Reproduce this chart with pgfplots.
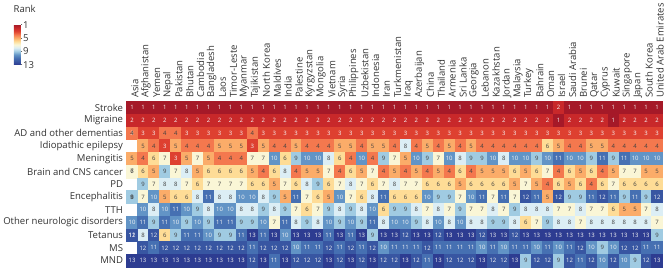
\documentclass[border=0pt]{standalone}
\usepackage{fontspec}
\setmainfont{Open Sans}
\usepackage{pgfplots}
\usepackage{pgfplotstable}
\pgfplotsset{compat=1.18}
\newcommand{\lab}{\fontsize{9.6}{11}\selectfont}
\newcommand{\cel}{\fontsize{6}{7}\selectfont}
% ranks: 13 rows (diseases) x 49 columns (countries), row by row
\pgfplotstableread[row sep=\\, header=false]{%
1\\1\\1\\1\\1\\1\\1\\1\\1\\1\\1\\1\\1\\1\\1\\1\\1\\1\\1\\1\\1\\1\\1\\1\\1\\1\\1\\1\\1\\1\\1\\1\\1\\1\\1\\1\\1\\1\\1\\2\\1\\1\\1\\1\\1\\1\\1\\1\\1\\%
2\\2\\2\\2\\2\\2\\2\\2\\2\\2\\2\\2\\2\\2\\2\\2\\2\\2\\2\\2\\2\\2\\2\\2\\2\\2\\2\\2\\2\\2\\2\\2\\2\\2\\2\\2\\2\\2\\2\\1\\2\\2\\2\\2\\1\\2\\2\\2\\2\\%
3\\3\\3\\4\\4\\3\\3\\3\\3\\3\\3\\4\\3\\3\\3\\3\\3\\3\\3\\3\\3\\3\\3\\3\\3\\3\\3\\3\\3\\3\\3\\3\\3\\3\\3\\3\\3\\3\\3\\3\\3\\3\\3\\3\\3\\3\\3\\3\\3\\%
4\\5\\4\\3\\5\\4\\4\\4\\5\\5\\5\\3\\5\\4\\4\\5\\4\\4\\4\\5\\5\\4\\5\\5\\4\\8\\4\\5\\4\\5\\4\\5\\4\\4\\4\\4\\4\\4\\6\\5\\4\\4\\5\\5\\4\\4\\4\\4\\4\\%
5\\4\\6\\7\\3\\5\\7\\5\\4\\4\\4\\7\\7\\10\\6\\9\\10\\10\\8\\6\\4\\10\\4\\9\\7\\5\\10\\9\\7\\10\\8\\9\\9\\10\\8\\10\\10\\9\\10\\11\\10\\10\\9\\11\\9\\11\\10\\10\\10\\%
6\\6\\5\\9\\7\\8\\5\\6\\6\\6\\6\\5\\4\\6\\8\\4\\5\\5\\7\\4\\6\\5\\7\\4\\5\\4\\5\\4\\5\\4\\6\\4\\5\\5\\5\\6\\5\\6\\7\\4\\6\\5\\6\\4\\5\\7\\7\\5\\5\\%
7\\9\\7\\8\\8\\7\\6\\7\\7\\7\\7\\6\\6\\5\\7\\6\\8\\9\\6\\7\\8\\7\\6\\7\\8\\7\\7\\6\\6\\6\\5\\6\\6\\6\\6\\5\\7\\5\\4\\6\\5\\6\\4\\6\\7\\6\\6\\6\\6\\%
8\\7\\10\\5\\6\\6\\8\\11\\8\\8\\10\\10\\8\\9\\5\\11\\7\\6\\5\\10\\7\\6\\8\\11\\6\\6\\6\\10\\9\\9\\7\\10\\11\\7\\11\\7\\12\\11\\5\\12\\9\\9\\11\\12\\11\\9\\11\\9\\12\\%
9\\10\\8\\10\\11\\10\\9\\8\\10\\10\\8\\8\\9\\8\\9\\7\\6\\7\\9\\8\\9\\8\\10\\6\\9\\9\\8\\7\\8\\7\\9\\7\\7\\8\\7\\9\\8\\8\\8\\7\\7\\8\\7\\7\\6\\5\\5\\7\\8\\%
10\\11\\9\\11\\10\\9\\10\\9\\11\\11\\9\\9\\10\\7\\11\\8\\9\\8\\10\\9\\10\\9\\11\\8\\10\\10\\9\\8\\10\\8\\10\\8\\8\\9\\9\\8\\6\\7\\9\\8\\8\\7\\8\\8\\8\\8\\8\\8\\7\\%
11\\8\\12\\6\\9\\11\\11\\10\\9\\9\\11\\13\\11\\13\\10\\13\\13\\13\\11\\13\\11\\13\\9\\13\\13\\12\\13\\13\\12\\13\\13\\13\\12\\13\\13\\12\\13\\13\\13\\13\\13\\13\\13\\13\\13\\13\\13\\13\\9\\%
12\\12\\11\\12\\12\\12\\12\\12\\12\\12\\12\\11\\12\\12\\12\\10\\11\\11\\12\\11\\12\\11\\12\\10\\11\\11\\11\\12\\11\\11\\11\\11\\10\\11\\10\\11\\11\\10\\11\\10\\11\\12\\10\\9\\10\\12\\12\\11\\11\\%
13\\13\\13\\13\\13\\13\\13\\13\\13\\13\\13\\12\\13\\11\\13\\12\\12\\12\\13\\12\\13\\12\\13\\12\\12\\13\\12\\11\\13\\12\\12\\12\\13\\12\\12\\13\\9\\12\\12\\9\\12\\11\\12\\10\\12\\10\\9\\12\\13\\%
}\ranks
\begin{document}
\begin{tikzpicture}
\begin{axis}[
  name=main,
  scale only axis, width=539pt, height=166.5pt,
  enlargelimits=false,
  xmin=-0.5, xmax=48.5, ymin=-0.5, ymax=12.5,
  y dir=reverse,
  axis line style={draw=none},
  axis on top,
  major tick length=0pt, minor tick length=0pt,
  xtick={0,...,48}, ytick={0,...,12},
  minor xtick={0.5,1.5,...,47.5}, minor ytick={0.5,1.5,...,11.5},
  xminorgrids, yminorgrids,
  minor grid style={white, opacity=0.45, line width=0.45pt},
  xticklabels={Asia,Afghanistan,Yemen,Nepal,Pakistan,Bhutan,Cambodia,Bangladesh,Laos,Timor-Leste,Myanmar,Tajikistan,North Korea,Maldives,India,Palestine,Kyrgyzstan,Mongolia,Vietnam,Syria,Philippines,Uzbekistan,Indonesia,Iran,Turkmenistan,Iraq,Azerbaijan,China,Thailand,Armenia,Sri Lanka,Georgia,Lebanon,Kazakhstan,Jordan,Malaysia,Turkey,Bahrain,Oman,Israel,Saudi Arabia,Brunei,Qatar,Cyprus,Kuwait,Singapore,Japan,South Korea,United Arab Emirates},
  yticklabels={Stroke,Migraine,AD and other dementias,Idiopathic epilepsy,Meningitis,Brain and CNS cancer,PD,Encephalitis,TTH,Other neurologic disorders,Tetanus,MS,MND},
  xticklabel pos=upper,
  xticklabel style={xshift=3pt, rotate=90, anchor=west, font=\lab, text=black!80},
  yticklabel style={font=\lab, text=black!80},
  colormap={rank}{rgb255=(165,25,40) rgb255=(200,40,42) rgb255=(222,64,48) rgb255=(244,120,78) rgb255=(251,172,105) rgb255=(254,220,150) rgb255=(250,246,214) rgb255=(220,238,245) rgb255=(160,203,226) rgb255=(98,148,198) rgb255=(70,112,178) rgb255=(56,86,162) rgb255=(45,60,145)},
  point meta min=1, point meta max=13,
  colorbar,
  colorbar style={
    at={(parent axis.north west)}, anchor=north west,
    xshift=-121.8pt, yshift=77.2pt,
    scale only axis, width=7pt, height=40.3pt,
    ymin=1, ymax=13, y dir=reverse,
    ytick={1,5,9,13}, yticklabels={1,5,9,13},
    minor xtick={}, minor ytick={}, xminorgrids=false, yminorgrids=false,
    axis line style={draw=none},
    major tick length=1.5pt, tick align=outside, ytick pos=right,
    tick style={draw=black!60, line width=0.4pt},
    yticklabel style={font=\lab, text=black!80, inner sep=0.6pt},
    title=Rank,
    title style={at={(0,1)}, anchor=south west, inner sep=1pt, xshift=-1.5pt, yshift=4.5pt, font=\lab, text=black!80},
  },
]
\addplot[scatter, only marks, mark=square*, mark size=5.5pt,
  mark options={yscale=1.1645, line width=0.2pt},
  scatter/use mapped color={draw=mapped color, fill=mapped color},
  point meta=explicit]
  table[x index=0, y index=0, x expr={mod(\coordindex,49)}, y expr={floor(\coordindex/49)}, meta index=0] {\ranks};
\addplot[only marks, mark=none, point meta=explicit symbolic,
  nodes near coords={\ifnum\pgfplotspointmeta<4 \color{white!92!gray}\else\ifnum\pgfplotspointmeta>9 \color{white!92!gray}\else\color{black!75}\fi\fi\pgfplotspointmeta},
  nodes near coords align={center},
  every node near coord/.append style={font=\cel, inner sep=0pt}]
  table[x index=0, y index=0, x expr={mod(\coordindex,49)}, y expr={floor(\coordindex/49)}, meta index=0] {\ranks};
\end{axis}
\path (main.north west) ++(-126.5pt,99.9pt) rectangle ++(667pt,-267pt);
\end{tikzpicture}
\end{document}
